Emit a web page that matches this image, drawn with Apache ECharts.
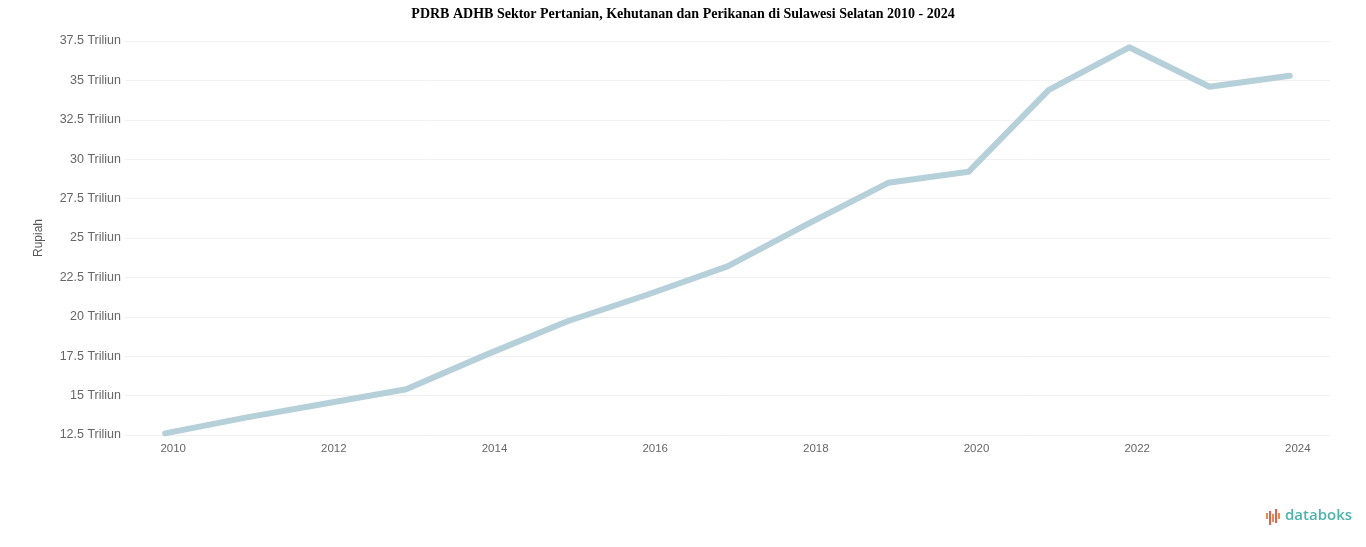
<!DOCTYPE html>
<html>
<head>
<meta charset="utf-8">
<script src="https://cdn.jsdelivr.net/npm/echarts@6/dist/echarts.min.js"></script>
<style>
html,body{margin:0;padding:0;background:#fff;}
#chart{width:1366px;height:547px;}
</style>
</head>
<body>
<div id="chart"></div>
<script>
const years = ['2010','2011','2012','2013','2014','2015','2016','2017','2018','2019','2020','2021','2022','2023','2024'];
const pdrbValues = [12.6, 13.6, 14.5, 15.4, 17.6, 19.7, 21.4, 23.2, 25.9, 28.5, 29.2, 34.4, 37.1, 34.6, 35.3];
const yMin = 12.5;
const yMax = 37.5;
const yStep = 2.5;
const titleText = 'PDRB ADHB Sektor Pertanian, Kehutanan dan Perikanan di Sulawesi Selatan 2010 - 2024';
const yAxisTitle = 'Rupiah';
const unitLabel = 'Triliun';

const chart = echarts.init(document.getElementById('chart'), null, {renderer:'canvas'});
chart.setOption({
  animation:false,
  backgroundColor:'#ffffff',
  title:{
    text:titleText,
    left:'center',
    top:2,
    textStyle:{fontFamily:'Liberation Serif',fontWeight:'bold',fontSize:14,color:'#000'}
  },
  grid:{left:125,right:36,top:41,bottom:112,containLabel:false},
  xAxis:{
    type:'category',
    data:years,
    boundaryGap:true,
    axisLine:{show:false},
    axisTick:{show:false},
    axisLabel:{interval:1,color:'#666',fontSize:11.5,margin:8,fontFamily:'Liberation Sans',padding:[0,0,0,16]},
    splitLine:{show:false}
  },
  yAxis:{
    type:'value',
    min:yMin,max:yMax,interval:yStep,
    name:yAxisTitle,
    nameLocation:'middle',
    nameGap:80,
    nameRotate:90,
    nameTextStyle:{color:'#555',fontSize:12,fontFamily:'Liberation Sans'},
    axisLine:{show:false},
    axisTick:{show:false},
    axisLabel:{
      color:'#666',fontSize:12.5,margin:4,fontFamily:'Liberation Sans',
      formatter:function(v){return v + ' ' + unitLabel;}
    },
    splitLine:{lineStyle:{color:'#f0f0f0',width:1}}
  },
  series:[{
    type:'line',
    data:pdrbValues,
    showSymbol:false,
    lineStyle:{color:'#b5d0d8',width:6,cap:'round',join:'round'},
    itemStyle:{color:'#b5d0d8'}
  }],
  graphic:[
    {type:'group',left:1266,top:509,children:[
      {type:'rect',shape:{x:0,y:4,width:2,height:6},style:{fill:'#f08a4b'}},
      {type:'rect',shape:{x:3,y:2,width:2,height:14},style:{fill:'#e8604c'}},
      {type:'rect',shape:{x:6,y:5,width:2,height:8},style:{fill:'#f08a4b'}},
      {type:'rect',shape:{x:9,y:0,width:2,height:14},style:{fill:'#e8604c'}},
      {type:'rect',shape:{x:12,y:4,width:2,height:6},style:{fill:'#f08a4b'}}
    ]},
    {type:'text',left:1285,top:508,style:{text:'databoks',fill:'#4db3ad',font:'600 15px "Open Sans"'}}
  ]
});
</script>
</body>
</html>
